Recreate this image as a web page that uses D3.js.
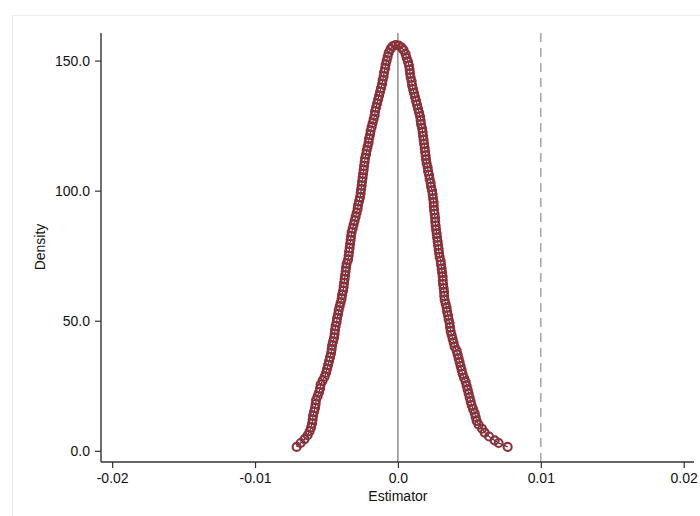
<!DOCTYPE html>
<html>
<head>
<meta charset="utf-8">
<script src="https://cdn.jsdelivr.net/npm/d3@7"></script>
<style>
  body { margin: 0; background: #fff; }
  text { font-family: "Liberation Sans", Arial, sans-serif; }
</style>
</head>
<body>
<div id="chart"></div>
<script>
// Estimator values (left tail -> peak -> right tail)
const estimator = [
  -0.00709, -0.00681, -0.00653, -0.00632, -0.00618, -0.00608, -0.00601, -0.00597, -0.00594, -0.00587,
  -0.00580, -0.00576, -0.00573, -0.00562, -0.00552, -0.00545, -0.00541, -0.00527, -0.00513, -0.00503,
  -0.00496, -0.00489, -0.00482, -0.00475, -0.00468, -0.00464, -0.00461, -0.00454, -0.00447, -0.00443,
  -0.00440, -0.00436, -0.00429, -0.00426, -0.00419, -0.00415, -0.00408, -0.00401, -0.00394, -0.00391,
  -0.00384, -0.00380, -0.00377, -0.00373, -0.00370, -0.00366, -0.00363, -0.00359, -0.00349, -0.00345,
  -0.00342, -0.00338, -0.00335, -0.00331, -0.00328, -0.00324, -0.00317, -0.00310, -0.00303, -0.00296,
  -0.00289, -0.00282, -0.00279, -0.00272, -0.00265, -0.00261, -0.00258, -0.00254, -0.00251, -0.00247,
  -0.00244, -0.00240, -0.00237, -0.00233, -0.00230, -0.00223, -0.00219, -0.00212, -0.00205, -0.00202,
  -0.00195, -0.00191, -0.00184, -0.00177, -0.00170, -0.00163, -0.00160, -0.00153, -0.00146, -0.00139,
  -0.00132, -0.00125, -0.00118, -0.00111, -0.00107, -0.00100, -0.00097, -0.00090, -0.00086, -0.00079,
  -0.00072, -0.00065, -0.00051, -0.00037, -0.00016,
  0.00005, 0.00026, 0.00040, 0.00054, 0.00061, 0.00071, 0.00078, 0.00082, 0.00085, 0.00089,
  0.00096, 0.00099, 0.00106, 0.00113, 0.00120, 0.00127, 0.00134, 0.00141, 0.00148, 0.00155,
  0.00159, 0.00162, 0.00169, 0.00173, 0.00176, 0.00180, 0.00183, 0.00187, 0.00190, 0.00194,
  0.00197, 0.00201, 0.00208, 0.00211, 0.00218, 0.00222, 0.00229, 0.00232, 0.00239, 0.00243,
  0.00246, 0.00250, 0.00251, 0.00253, 0.00257, 0.00260, 0.00261, 0.00264, 0.00267, 0.00271,
  0.00274, 0.00278, 0.00281, 0.00285, 0.00288, 0.00292, 0.00299, 0.00302, 0.00306, 0.00309,
  0.00313, 0.00314, 0.00316, 0.00320, 0.00323, 0.00324, 0.00327, 0.00334, 0.00341, 0.00344,
  0.00351, 0.00355, 0.00362, 0.00365, 0.00369, 0.00376, 0.00383, 0.00390, 0.00397, 0.00411,
  0.00418, 0.00425, 0.00432, 0.00439, 0.00446, 0.00453, 0.00463, 0.00474, 0.00481, 0.00488,
  0.00495, 0.00502, 0.00509, 0.00516, 0.00526, 0.00537, 0.00544, 0.00551, 0.00565, 0.00589,
  0.00607, 0.00638, 0.00677, 0.00705, 0.00768
];

const density = [
  1.5, 3, 4.5, 6, 7.5, 9, 10.5, 12, 13.5, 15,
  16.5, 18, 19.5, 21, 22.5, 24, 25.5, 27, 28.5, 30,
  31.5, 33, 34.5, 36, 37.5, 39, 40.5, 42, 43.5, 45,
  46.5, 48, 49.5, 51, 52.5, 54, 55.5, 57, 58.5, 60,
  61.5, 63, 64.5, 66, 67.5, 69, 70.5, 72, 73.5, 75,
  76.5, 78, 79.5, 81, 82.5, 84, 85.5, 87, 88.5, 90,
  91.5, 93, 94.5, 96, 97.5, 99, 100.5, 102, 103.5, 105,
  106.5, 108, 109.5, 111, 112.5, 114, 115.5, 117, 118.5, 120,
  121.5, 123, 124.5, 126, 127.5, 129, 130.5, 132, 133.5, 135,
  136.5, 138, 139.5, 141, 142.5, 144, 145.5, 147, 148.5, 150,
  151.5, 153, 154.5, 155.5, 156,
  155.8, 155, 154, 152.5, 151, 149.5, 148, 146.5, 145, 143.5,
  142, 140.5, 139, 137.5, 136, 134.5, 133, 131.5, 130, 128.5,
  127, 125.5, 124, 122.5, 121, 119.5, 118, 116.5, 115, 113.5,
  112, 110.5, 109, 107.5, 106, 104.5, 103, 101.5, 100, 98.5,
  97, 95.5, 94, 92.5, 91, 89.5, 88, 86.5, 85, 83.5,
  82, 80.5, 79, 77.5, 76, 74.5, 73, 71.5, 70, 68.5,
  67, 65.5, 64, 62.5, 61, 59.5, 58, 56.5, 55, 53.5,
  52, 50.5, 49, 47.5, 46, 44.5, 43, 41.5, 40, 38.5,
  37, 35.5, 34, 32.5, 31, 29.5, 28, 26.5, 25, 23.5,
  22, 20.5, 19, 17.5, 16, 14.5, 13, 11.5, 10, 8.5,
  7, 5.5, 4, 3, 1.5
];

const xTicks = [-0.02, -0.01, 0, 0.01, 0.02];
const xTickLabels = ["-0.02", "-0.01", "0.0", "0.01", "0.02"];
const yTicks = [0, 50, 100, 150];
const yTickLabels = ["0.0", "50.0", "100.0", "150.0"];
const refLines = [0, 0.01];

const width = 700;
const height = 516;
const plot = { left: 101, right: 694, top: 33, bottom: 462 };

const svg = d3
  .select("#chart")
  .append("svg")
  .attr("width", width)
  .attr("height", height);

// outer frame
svg
  .append("rect")
  .attr("x", 12.5)
  .attr("y", 15.5)
  .attr("width", 700)
  .attr("height", 520)
  .attr("fill", "#fff")
  .attr("stroke", "#e6eef0");

const xScale = d3.scaleLinear().domain([-0.02078, 0.02072]).range([plot.left, plot.right]);
const yScale = d3.scaleLinear().domain([-4.3, 160.6]).range([plot.bottom, plot.top]);

const points = estimator.map((x, i) => ({ x: x, y: density[i] }));

// reference lines
svg
  .append("line")
  .attr("x1", xScale(refLines[0]))
  .attr("x2", xScale(refLines[0]))
  .attr("y1", plot.top)
  .attr("y2", plot.bottom)
  .attr("stroke", "#555")
  .attr("stroke-width", 1);

svg
  .append("line")
  .attr("x1", xScale(refLines[1]))
  .attr("x2", xScale(refLines[1]))
  .attr("y1", plot.top)
  .attr("y2", plot.bottom)
  .attr("stroke", "#999")
  .attr("stroke-width", 1.3)
  .attr("stroke-dasharray", "9,6");

// smooth density line under the markers
svg
  .append("path")
  .datum(points)
  .attr("fill", "none")
  .attr("stroke", "#1a476f")
  .attr("stroke-width", 1.2)
  .attr("d", d3.line().x((d) => xScale(d.x)).y((d) => yScale(d.y)));

svg
  .selectAll("circle.pt")
  .data(points)
  .enter()
  .append("circle")
  .attr("class", "pt")
  .attr("cx", (d) => xScale(d.x))
  .attr("cy", (d) => yScale(d.y))
  .attr("r", 4.0)
  .attr("fill", "none")
  .attr("stroke", "#8c3038")
  .attr("stroke-width", 2.1);

// Axes

const xAxis = svg
  .append("g")
  .attr("transform", `translate(0, ${plot.bottom})`)
  .call(
    d3.axisBottom(xScale)
      .tickValues(xTicks)
      .tickFormat((d, i) => xTickLabels[i])
      .tickSize(6)
      .tickSizeOuter(0)
      .tickPadding(5)
  );

const yAxis = svg
  .append("g")
  .attr("transform", `translate(${plot.left}, 0)`)
  .call(
    d3.axisLeft(yScale)
      .tickValues(yTicks)
      .tickFormat((d, i) => yTickLabels[i])
      .tickSize(6)
      .tickSizeOuter(0)
      .tickPadding(5)
  );

[xAxis, yAxis].forEach((g) => {
  g.select(".domain").attr("stroke", "#333").attr("stroke-width", 1.4);
  g.selectAll(".tick line").attr("stroke", "#333").attr("stroke-width", 1.2);
  g.selectAll(".tick text")
    .attr("fill", "#111")
    .style("font-size", "14px")
    .style("font-family", "'Liberation Sans', Arial, sans-serif");
});

// keep the axis lines to the plot region
yAxis.select(".domain").attr("d", `M0,${plot.top}V${plot.bottom}`);
xAxis.select(".domain").attr("d", `M${plot.left},0H${plot.right}`);

svg
  .append("text")
  .attr("x", (xScale(0)))
  .attr("y", 501)
  .attr("text-anchor", "middle")
  .style("font-size", "14px")
  .attr("fill", "#111")
  .text("Estimator");

svg
  .append("text")
  .attr("x", -247)
  .attr("y", 45)
  .attr("transform", "rotate(-90)")
  .attr("text-anchor", "middle")
  .style("font-size", "14px")
  .attr("fill", "#111")
  .text("Density");
</script>
</body>
</html>
